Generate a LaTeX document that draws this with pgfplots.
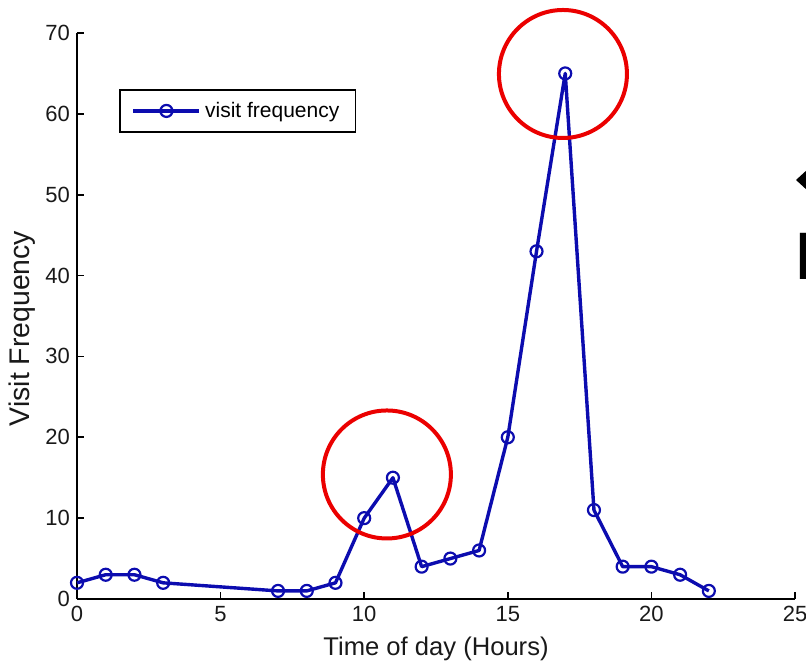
\documentclass[border=0pt]{standalone}
\usepackage{fontspec}
\setmainfont{Liberation Sans}
\newfontfamily\slidefont{Carlito}
\usepackage{pgfplots}
\pgfplotsset{compat=1.18}
\definecolor{mblue}{RGB}{12,12,175}
\definecolor{mred}{RGB}{235,0,0}
\pgfplotstableread{
x y
0 2
1 3
2 3
3 2
7 1
8 1
9 2
10 10
11 15
12 4
13 5
14 6
15 20
16 43
17 65
18 11
19 4
20 4
21 3
22 1
}\visits
\begin{document}
\begin{tikzpicture}
\begin{axis}[
  scale only axis, width=359pt, height=283pt,
  xmin=0, xmax=25, ymin=0, ymax=70,
  axis x line=bottom, axis y line=left,
  axis line style={-, line width=0.8pt, black},
  xtick={0,5,...,25}, ytick={0,10,...,70},
  tick align=inside, major tick length=3.5pt,
  tick style={black, line width=0.8pt},
  /pgf/number format/assume math mode=true,
  tick label style={font=\fontsize{11}{13}\selectfont, text=black!90},
  xlabel={Time of day (Hours)}, ylabel={Visit Frequency},
  xlabel style={at={([yshift=-25pt]axis cs:12.5,0)}, anchor=center, font=\fontsize{12.8}{15}\selectfont, text=black!90},
  ylabel style={at={([xshift=-27.5pt]axis cs:0,33.45)}, anchor=center, font=\fontsize{14.2}{16}\selectfont, text=black!90},
  clip=false,
  legend style={at={(axis cs:1.46,63.07)}, anchor=north west, draw=black, line width=0.8pt,
    font=\fontsize{10.5}{12}\selectfont, inner xsep=6pt, inner ysep=4pt},
  legend image code/.code={\draw[mark repeat=2,mark phase=2] plot coordinates {(0pt,0pt)(16.5pt,0pt)(33pt,0pt)};},
]
\addplot[mblue, line width=1.7pt, line join=round, mark=o, mark size=3pt, mark options={line width=1.1pt, solid}] table[x=x,y=y] {\visits};
\addlegendentry{visit frequency}
\draw[mred, line width=2pt] (axis cs:10.79,15.4) circle[radius=32pt];
\draw[mred, line width=2pt] (axis cs:16.92,64.93) circle[radius=32pt];
\fill[black] (axis cs:25.035,51.82) -- (axis cs:25.453,53.18) -- (axis cs:25.453,50.46) -- cycle;
\node[anchor=base west, inner sep=0pt, font=\slidefont\fontsize{36}{40}\selectfont] at (axis cs:25.0,39.57) {F};
\coordinate (bbsw) at (axis cs:-2.681,-8.04);
\coordinate (bbne) at (axis cs:25.383,74.08);
\end{axis}
\pgfresetboundingbox
\useasboundingbox (bbsw) rectangle (bbne);
\end{tikzpicture}
\end{document}
